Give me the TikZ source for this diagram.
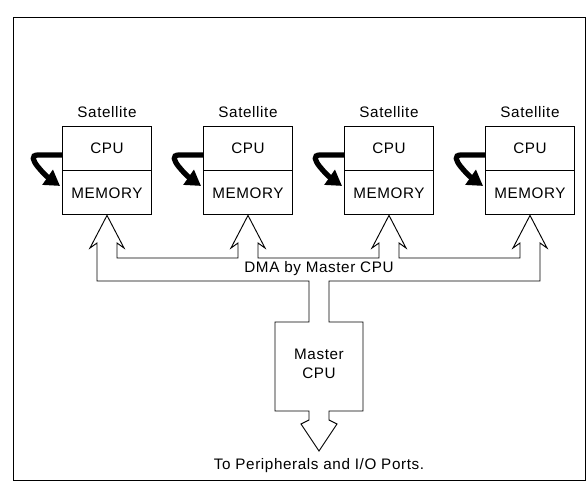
\documentclass[tikz,border=0pt]{standalone}
\usepackage{fontspec}
\setmainfont[LetterSpace=4]{Liberation Sans}
\usetikzlibrary{arrows.meta,positioning,calc}

\begin{document}
\begin{tikzpicture}[x=0.03cm,y=-0.03cm,line width=0.8pt,
    every node/.style={font=\fontsize{13}{15}\selectfont},
    unit/.style={draw,minimum width=2.67cm,minimum height=1.32cm,inner sep=0pt},
    loopback/.style={line width=4.5pt,-{Triangle[length=13pt,width=15pt]}}]
  \useasboundingbox (0,0) rectangle (588,493);
  % Frame
  \draw (13,17) rectangle (585,480);
  % Satellite 1
  \node[unit] (cpu1) at (107,148) {CPU};
  \node[unit,below=0pt of cpu1] (mem1) {MEMORY};
  \node[above=3pt of cpu1] (sat1) {Satellite};
  \draw[loopback] ($(cpu1.west)+(0,7)$) -- ++(-24,0)
    to[out=180,in=145] ($(mem1.west)+(-2,-7)$);
  % Satellite 2
  \node[unit] (cpu2) at (248,148) {CPU};
  \node[unit,below=0pt of cpu2] (mem2) {MEMORY};
  \node[above=3pt of cpu2] (sat2) {Satellite};
  \draw[loopback] ($(cpu2.west)+(0,7)$) -- ++(-24,0)
    to[out=180,in=145] ($(mem2.west)+(-2,-7)$);
  % Satellite 3
  \node[unit] (cpu3) at (389,148) {CPU};
  \node[unit,below=0pt of cpu3] (mem3) {MEMORY};
  \node[above=3pt of cpu3] (sat3) {Satellite};
  \draw[loopback] ($(cpu3.west)+(0,7)$) -- ++(-24,0)
    to[out=180,in=145] ($(mem3.west)+(-2,-7)$);
  % Satellite 4
  \node[unit] (cpu4) at (530,148) {CPU};
  \node[unit,below=0pt of cpu4] (mem4) {MEMORY};
  \node[above=3pt of cpu4] (sat4) {Satellite};
  \draw[loopback] ($(cpu4.west)+(0,7)$) -- ++(-24,0)
    to[out=180,in=145] ($(mem4.west)+(-2,-7)$);
  % Master and DMA bus
  \node[align=center,font=\fontsize{13}{16}\selectfont] (master) at (319,364) {Master\\CPU};
  \draw (97,281) -- (97,243) -- (90,248) -- (mem1.south) -- (124,248) -- (117,243)
    -- (117,258) -- (238,258) -- (238,243) -- (231,248) -- (mem2.south) -- (265,248)
    -- (258,243) -- (258,258) -- (379,258) -- (379,243) -- (372,248) -- (mem3.south)
    -- (406,248) -- (399,243) -- (399,258) -- (520,258) -- (520,243) -- (513,248)
    -- (mem4.south) -- (547,248) -- (540,243) -- (540,281) -- (329,281) -- (329,322)
    -- (363,322) -- (363,411) -- (329,411) -- (329,420) -- (337,424) -- (319,451)
    -- (301,424) -- (309,420) -- (309,411) -- (275,411) -- (275,322) -- (309,322)
    -- (309,281) -- cycle;
  \node (dma) at (319,269) {DMA by Master CPU};
  \node (ports) at (319,466) {To Peripherals and I/O Ports.};
\end{tikzpicture}
\end{document}
